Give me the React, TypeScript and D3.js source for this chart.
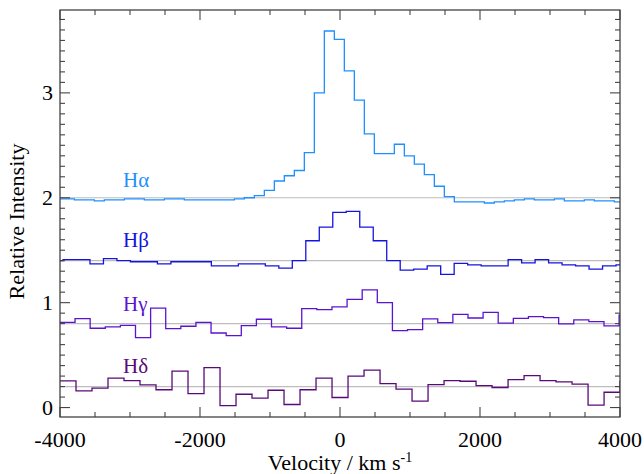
import React from 'react';
import * as d3 from 'd3';

// bin values (relative intensity), each line starts at its own velocity with its own bin width
const haStart = -4081;
const haWidth = 142.86;
const haValues = [
  1.99, 1.99, 1.98, 1.98, 1.97, 1.98, 1.98, 1.99, 1.99, 1.98, 1.98, 1.99, 1.99, 1.98, 1.98, 1.98, 1.98, 1.98, 1.99,
  2.0, 2.02, 2.07, 2.16, 2.21, 2.26, 2.43, 3.0, 3.59, 3.51, 3.21, 2.93, 2.61, 2.42, 2.42, 2.51, 2.4, 2.32, 2.22, 2.11,
  2.01, 1.96, 1.96, 1.96, 1.95, 1.96, 1.97, 1.98, 1.99, 1.98, 1.98, 1.99, 1.97, 1.97, 1.98, 1.97, 1.97, 1.96,
];

const hbStart = -4150;
const hbWidth = 192.7;
const hbValues = [
  1.4, 1.41, 1.41, 1.37, 1.42, 1.4, 1.39, 1.39, 1.37, 1.39, 1.39, 1.39, 1.35, 1.35, 1.37, 1.37, 1.35, 1.33, 1.4,
  1.59, 1.72, 1.86, 1.87, 1.72, 1.59, 1.4, 1.31, 1.32, 1.35, 1.27, 1.375, 1.36, 1.35, 1.35, 1.41, 1.38, 1.41, 1.38,
  1.36, 1.35, 1.32, 1.35, 1.36,
];

const hgStart = -4001;
const hgWidth = 215.9;
const hgValues = [
  0.813, 0.848, 0.756, 0.769, 0.784, 0.667, 0.947, 0.753, 0.775, 0.813, 0.711, 0.686, 0.781, 0.842, 0.769, 0.756,
  0.943, 0.934, 0.959, 1.032, 1.121, 1.0, 0.733, 0.743, 0.845, 0.81, 0.889, 0.854, 0.908, 0.804, 0.851, 0.867, 0.857,
  0.797, 0.835, 0.82, 0.778, 0.88,
];

const hdStart = -4000;
const hdWidth = 228.6;
const hdValues = [
  0.254, 0.159, 0.185, 0.28, 0.257, 0.216, 0.17, 0.347, 0.133, 0.381, 0.019, 0.127, 0.089, 0.165, 0.029, 0.17, 0.28,
  0.096, 0.299, 0.356, 0.229, 0.175, 0.061, 0.219, 0.257, 0.251, 0.21, 0.191, 0.267, 0.305, 0.257, 0.244, 0.223,
  0.023, 0.146, 0.25,
];

const lineNames = ['Hα', 'Hβ', 'Hγ', 'Hδ'];
const baselines = [2.0, 1.4, 0.8, 0.2];
const labelLevels = [2.1, 1.53, 0.92, 0.33];
const colors = ['#1e90ff', '#1414e0', '#5a14d0', '#5a0a78'];

const xTicks = d3.range(-4000, 4001, 500);
const xLabels = [-4000, -2000, 0, 2000, 4000];
const yTicks = d3.range(0, 38).map((i) => i / 10);
const yLabels = [0, 1, 2, 3];

const width = 644;
const height = 474;
const margin = { top: 10, right: 24, bottom: 57, left: 60 };
const font = '"Liberation Serif", "Times New Roman", serif';

const series = [
  { start: haStart, w: haWidth, values: haValues },
  { start: hbStart, w: hbWidth, values: hbValues },
  { start: hgStart, w: hgWidth, values: hgValues },
  { start: hdStart, w: hdWidth, values: hdValues },
];

const App = () => {
  const x = d3.scaleLinear().domain([-4000, 4000]).range([margin.left, width - margin.right]);
  const y = d3.scaleLinear().domain([-0.09, 3.79]).range([height - margin.bottom, margin.top]);
  const x0 = x.range()[0];
  const x1 = x.range()[1];
  const y0 = y.range()[0];
  const y1 = y.range()[1];

  const step = d3
    .line<[number, number]>()
    .x((d) => x(d[0]))
    .y((d) => y(d[1]))
    .curve(d3.curveStepAfter);

  const paths = series.map((s) => {
    const pts: [number, number][] = s.values.map((v, i) => [s.start + i * s.w, v]);
    pts.push([s.start + s.values.length * s.w, s.values[s.values.length - 1]]);
    return step(pts);
  });

  return (
    <svg width={width} height={height} style={{ position: 'absolute', left: 0, top: 0, background: '#fff' }}>
      <defs>
        <clipPath id="plot">
          <rect x={x0} y={y1} width={x1 - x0} height={y0 - y1} />
        </clipPath>
      </defs>

      {/* continuum levels */}
      {baselines.map((b) => (
        <line key={b} x1={x0} x2={x1} y1={y(b)} y2={y(b)} stroke="#bdbdbd" strokeWidth={1.2} />
      ))}

      {/* spectra */}
      <g clipPath="url(#plot)">
        {paths.map((d, i) => (
          <path key={i} d={d || ''} fill="none" stroke={colors[i]} strokeWidth={1.3} />
        ))}
      </g>

      {lineNames.map((n, i) => (
        <text key={n} x={x(-3100)} y={y(labelLevels[i])} fill={colors[i]} fontFamily={font} fontSize={21}>
          {n}
        </text>
      ))}

      {/* frame */}
      <rect x={x0} y={y1} width={x1 - x0} height={y0 - y1} fill="none" stroke="#333" strokeWidth={1.2} />

      {/* x ticks, bottom and top */}
      {xTicks.map((t) => {
        const len = t % 2000 === 0 ? 10 : 5;
        return (
          <g key={t} stroke="#444" strokeWidth={1.1}>
            <line x1={x(t)} x2={x(t)} y1={y0} y2={y0 - len} />
            <line x1={x(t)} x2={x(t)} y1={y1} y2={y1 + len} />
          </g>
        );
      })}
      {xLabels.map((t) => (
        <text key={t} x={x(t)} y={y0 + 30} textAnchor="middle" fontFamily={font} fontSize={22}>
          {t}
        </text>
      ))}

      {/* y ticks, left and right */}
      {yTicks.map((t) => {
        const len = Math.abs(t - Math.round(t)) < 1e-6 ? 10 : 5;
        return (
          <g key={t} stroke="#444" strokeWidth={1.1}>
            <line x1={x0} x2={x0 + len} y1={y(t)} y2={y(t)} />
            <line x1={x1} x2={x1 - len} y1={y(t)} y2={y(t)} />
          </g>
        );
      })}
      {yLabels.map((t) => (
        <text key={t} x={x0 - 7} y={y(t) + 7} textAnchor="end" fontFamily={font} fontSize={22}>
          {t}
        </text>
      ))}

      <text x={x(0)} y={height - 4} textAnchor="middle" fontFamily={font} fontSize={22}>
        Velocity / km s<tspan dy={-8} fontSize={14}>-1</tspan>
      </text>
      <text
        transform={`translate(24, ${(y0 + y1) / 2 + 8}) rotate(-90)`}
        textAnchor="middle"
        fontFamily={font}
        fontSize={22}
      >
        Relative Intensity
      </text>
    </svg>
  );
};

export default App;
